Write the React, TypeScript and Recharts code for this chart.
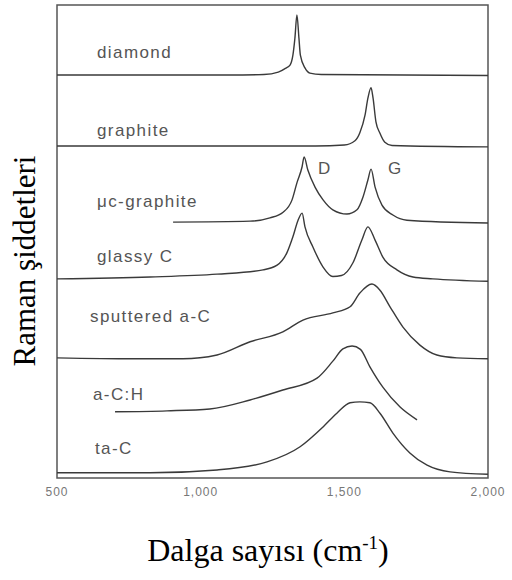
import { LineChart, Line, XAxis, YAxis, ReferenceArea } from 'recharts'

// wavenumber (cm-1), stacked intensity (0 = bottom of frame, 100 = top)
const diamond: [number, number][] = [
  [500, 85.2], [1100, 85.2], [1220, 85.3], [1270, 85.8], [1295, 86.6], [1311, 87.3],
  [1321, 89.4], [1328, 93.0], [1335, 97.9], [1342, 93.0], [1347, 89.4], [1363, 86.7],
  [1380, 85.6], [1420, 85.3], [2000, 85.1],
]
const graphite: [number, number][] = [
  [500, 70.2], [1400, 70.2], [1500, 70.4], [1537, 71.3], [1554, 73.0], [1572, 76.7],
  [1582, 80.3], [1593, 82.5], [1600, 80.3], [1610, 75.3], [1624, 72.9], [1641, 71.0],
  [1666, 70.3], [2000, 70.0],
]
const microGraphite: [number, number][] = [
  [904, 54.1], [1172, 54.3], [1241, 55.0], [1287, 56.2], [1318, 58.8], [1335, 62.4],
  [1353, 65.8], [1360, 67.9], [1373, 65.1], [1398, 61.5], [1426, 58.8], [1460, 56.7],
  [1509, 55.8], [1544, 56.7], [1565, 59.4], [1582, 63.0], [1593, 65.3], [1607, 61.5],
  [1631, 57.7], [1669, 55.6], [1718, 54.5], [2000, 53.9],
]
const glassyC: [number, number][] = [
  [500, 42.1], [824, 42.5], [1057, 43.1], [1217, 44.0], [1266, 45.0], [1300, 47.6],
  [1321, 51.0], [1339, 54.5], [1353, 56.0], [1363, 53.1], [1391, 48.8], [1426, 44.6],
  [1460, 42.6], [1490, 42.8], [1530, 45.5], [1561, 50.3], [1582, 53.1], [1607, 50.3],
  [1634, 46.7], [1683, 44.0], [1739, 42.5], [1808, 42.1], [2000, 41.6],
]
const sputteredAC: [number, number][] = [
  [500, 25.4], [764, 25.2], [938, 25.2], [1057, 26.0], [1172, 28.8], [1286, 30.9],
  [1356, 33.4], [1460, 34.9], [1520, 36.2], [1554, 39.1], [1596, 41.0], [1624, 39.7],
  [1659, 36.2], [1704, 31.9], [1763, 28.1], [1822, 26.0], [1892, 25.4], [2000, 25.2],
]
const aCH: [number, number][] = [
  [702, 14.0], [883, 14.2], [1032, 14.6], [1172, 16.5], [1286, 18.6], [1405, 21.1],
  [1460, 24.7], [1495, 27.3], [1527, 27.9], [1556, 27.2], [1589, 23.5], [1634, 19.2],
  [1694, 15.0], [1753, 12.3],
]
const taC: [number, number][] = [
  [500, 1.1], [824, 1.1], [1057, 1.7], [1231, 3.4], [1346, 6.6], [1426, 10.8],
  [1474, 13.7], [1520, 15.9], [1554, 16.1], [1589, 15.9], [1624, 13.7], [1669, 9.5],
  [1728, 5.3], [1788, 2.7], [1868, 1.3], [2000, 0.8],
]

const spectra = [diamond, graphite, microGraphite, glassyC, sputteredAC, aCH, taC]
const xTicks = [500, 1000, 1500, 2000]

const traceLabels = [
  { text: 'diamond', left: 97, top: 59 },
  { text: 'graphite', left: 97, top: 137 },
  { text: 'μc-graphite', left: 97, top: 208 },
  { text: 'glassy C', left: 97, top: 263 },
  { text: 'sputtered a-C', left: 90, top: 323 },
  { text: 'a-C:H', left: 93, top: 401 },
  { text: 'ta-C', left: 95, top: 455 },
  { text: 'D', left: 318, top: 175 },
  { text: 'G', left: 388, top: 175 },
]

const frame = '#555'
const serif = '"Liberation Serif", "Times New Roman", serif'

export default function App() {
  const series = spectra.map((s) => s.map(([wn, v]) => ({ wn, v })))
  return (
    <div style={{ position: 'absolute', left: 0, top: 0, width: 512, height: 580, background: '#fff' }}>
      <LineChart width={512} height={580} margin={{ top: 5, right: 24, bottom: 72, left: 57 }}>
        <XAxis
          type="number"
          dataKey="wn"
          domain={[500, 2000]}
          ticks={xTicks}
          tickFormatter={(t: number) => t.toLocaleString('en-US')}
          allowDataOverflow
          height={30}
          tickLine={false}
          tickMargin={3}
          axisLine={false}
          tick={{ fontSize: 12, fill: '#777', letterSpacing: 1, fontFamily: '"Liberation Sans", Arial, sans-serif' }}
        />
        <YAxis type="number" domain={[0, 100]} width={0} hide />
        <ReferenceArea
          x1={500}
          x2={2000}
          y1={0}
          y2={100}
          fill="none"
          fillOpacity={0}
          stroke={frame}
          strokeWidth={1.5}
        />
        {series.map((d, i) => (
          <Line
            key={i}
            data={d}
            dataKey="v"
            type="monotone"
            dot={false}
            stroke="#3a3a3a"
            strokeWidth={1.4}
            isAnimationActive={false}
          />
        ))}
      </LineChart>

      {traceLabels.map((l) => (
        <div
          key={l.text}
          style={{
            position: 'absolute',
            left: l.left,
            top: l.top - 15,
            fontFamily: '"Liberation Sans", Arial, sans-serif',
            fontSize: 17,
            letterSpacing: l.text.length > 1 ? 1.4 : 0,
            color: '#555',
            lineHeight: '17px',
            whiteSpace: 'nowrap',
          }}
        >
          {l.text}
        </div>
      ))}

      <div
        style={{
          position: 'absolute',
          left: 25,
          top: 261,
          transform: 'translate(-50%, -50%) rotate(-90deg)',
          fontFamily: serif,
          fontSize: 31,
          whiteSpace: 'nowrap',
          color: '#000',
        }}
      >
        Raman şiddetleri
      </div>
      <div
        style={{
          position: 'absolute',
          left: 0,
          width: 536,
          top: 532,
          textAlign: 'center',
          fontFamily: serif,
          fontSize: 32,
          whiteSpace: 'nowrap',
          color: '#000',
        }}
      >
        Dalga sayısı (cm<sup style={{ fontSize: 19 }}>-1</sup>)
      </div>
    </div>
  )
}
